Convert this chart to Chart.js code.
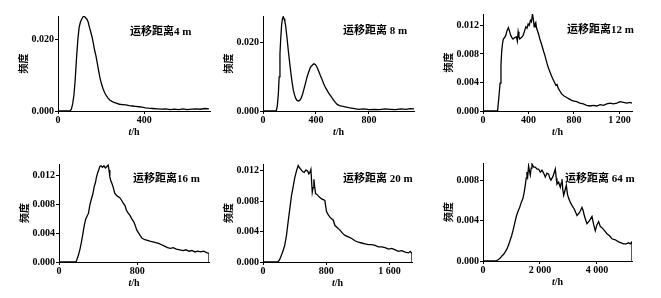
<!DOCTYPE html>
<html>
<head>
<meta charset="utf-8">
<script src="https://cdn.jsdelivr.net/npm/chart.js@4/dist/chart.umd.min.js"></script>
<style>
  html, body { margin: 0; padding: 0; background: #fff; }
  body { position: relative; width: 661px; height: 298px; overflow: hidden; }
  canvas { position: absolute; }
</style>
</head>
<body>
<script>
// 运移距离 4 m
const t4 = [0, 55, 62, 68, 74, 80, 86, 92, 98, 104, 110, 116, 122, 128, 134, 140, 146, 152, 158, 164, 170, 176, 182, 188, 194, 200, 208, 216, 224, 232, 240, 250, 260, 270, 285, 300, 315, 330, 345, 360, 375, 390, 405, 420, 440, 460, 480, 500, 520, 540, 560, 580, 600, 620, 640, 660, 680, 700];
const f4 = [0, 0, 0.0005, 0.002, 0.0045, 0.009, 0.015, 0.020, 0.0235, 0.025, 0.0258, 0.0265, 0.0266, 0.0262, 0.0258, 0.025, 0.0235, 0.0222, 0.0208, 0.019, 0.017, 0.0155, 0.0135, 0.0115, 0.0095, 0.008, 0.0064, 0.0052, 0.0043, 0.0036, 0.0031, 0.0027, 0.0024, 0.0022, 0.0019, 0.0018, 0.0017, 0.0015, 0.0014, 0.0013, 0.0012, 0.0011, 0.0009, 0.0008, 0.0007, 0.0006, 0.0005, 0.0006, 0.0004, 0.0005, 0.0004, 0.0006, 0.0004, 0.0005, 0.0006, 0.0005, 0.0007, 0.0006];

// 运移距离 8 m
const t8 = [0, 100, 108, 116, 122, 128, 135, 141, 147, 153, 159, 165, 171, 181, 191, 201, 211, 220, 229, 238, 247, 257, 267, 277, 287, 297, 307, 320, 332, 345, 358, 370, 383, 395, 408, 420, 433, 446, 458, 470, 483, 495, 508, 520, 533, 546, 558, 577, 596, 620, 646, 680, 722, 760, 800, 840, 880, 920, 960, 1000, 1040, 1080, 1110, 1140];
const f8 = [0, 0, 0.0015, 0.0051, 0.010, 0.0167, 0.022, 0.0254, 0.027, 0.0276, 0.027, 0.0262, 0.0249, 0.0215, 0.0177, 0.0143, 0.0109, 0.0083, 0.0061, 0.0047, 0.0037, 0.0031, 0.0029, 0.0031, 0.0037, 0.0047, 0.0061, 0.0080, 0.0099, 0.0114, 0.0128, 0.0133, 0.0138, 0.0136, 0.0128, 0.0117, 0.0104, 0.0092, 0.008, 0.007, 0.0061, 0.0053, 0.0046, 0.0039, 0.0032, 0.0025, 0.002, 0.0016, 0.0014, 0.0012, 0.001, 0.0008, 0.0005, 0.0006, 0.0004, 0.0005, 0.0004, 0.0006, 0.0005, 0.0004, 0.0006, 0.0005, 0.0007, 0.0006];

// 运移距离 12 m
const t12 = [0, 128, 140, 150, 158, 165, 172, 179, 190, 200, 210, 223, 233, 244, 254, 264, 279, 294, 302, 309, 316, 323, 338, 353, 365, 376, 387, 397, 407, 417, 426, 435, 443, 450, 457, 464, 470, 476, 488, 500, 512, 523, 534, 544, 554, 564, 576, 588, 600, 611, 626, 641, 651, 661, 676, 691, 713, 735, 757, 779, 801, 823, 852, 882, 911, 941, 970, 1000, 1030, 1059, 1088, 1117, 1146, 1176, 1205, 1235, 1264, 1294, 1310];
const f12 = [0, 0, 0.002, 0.0039, 0.0065, 0.0085, 0.0095, 0.0101, 0.0103, 0.0106, 0.0112, 0.0117, 0.0112, 0.0106, 0.0103, 0.0101, 0.0103, 0.0104, 0.0098, 0.0111, 0.0104, 0.0101, 0.0103, 0.0106, 0.0112, 0.0118, 0.0116, 0.0122, 0.0120, 0.0127, 0.0125, 0.0136, 0.0128, 0.0118, 0.0122, 0.0124, 0.0117, 0.0114, 0.0108, 0.0101, 0.0095, 0.0089, 0.0083, 0.0078, 0.0072, 0.0066, 0.006, 0.0055, 0.005, 0.0046, 0.0041, 0.0036, 0.0037, 0.0032, 0.0028, 0.0024, 0.0021, 0.0019, 0.0017, 0.0015, 0.0014, 0.0013, 0.0011, 0.001, 0.0008, 0.0007, 0.0008, 0.0007, 0.0009, 0.0008, 0.001, 0.0011, 0.001, 0.0011, 0.0013, 0.0012, 0.0011, 0.0012, 0.0011];

// 运移距离 16 m
const t16 = [0, 175, 185, 200, 215, 230, 245, 260, 274, 288, 302, 315, 330, 345, 360, 372, 383, 395, 406, 418, 430, 445, 460, 475, 490, 503, 512, 520, 530, 540, 555, 570, 588, 605, 620, 640, 657, 674, 690, 708, 726, 745, 765, 780, 794, 812, 830, 850, 879, 905, 930, 960, 990, 1020, 1050, 1080, 1110, 1140, 1170, 1200, 1235, 1270, 1300, 1330, 1360, 1390, 1420, 1450, 1480, 1510, 1535, 1535];
const f16 = [0, 0, 0.0004, 0.001, 0.0018, 0.0028, 0.004, 0.0052, 0.006, 0.0064, 0.0068, 0.0079, 0.0087, 0.0094, 0.0105, 0.011, 0.0118, 0.0124, 0.0128, 0.0133, 0.0134, 0.0132, 0.0134, 0.0131, 0.0133, 0.0135, 0.0128, 0.0119, 0.0113, 0.011, 0.0104, 0.0096, 0.0093, 0.0091, 0.0090, 0.0086, 0.0082, 0.0079, 0.0072, 0.0068, 0.0065, 0.006, 0.0056, 0.0051, 0.0045, 0.0041, 0.0037, 0.0033, 0.0031, 0.003, 0.0029, 0.0028, 0.0027, 0.0026, 0.0024, 0.0022, 0.002, 0.0019, 0.002, 0.0018, 0.0017, 0.0016, 0.0017, 0.0015, 0.0016, 0.0014, 0.0015, 0.0014, 0.0015, 0.0013, 0.0012, 0];

// 运移距离 20 m
const t20 = [0, 188, 210, 233, 255, 275, 297, 318, 339, 360, 381, 402, 424, 445, 462, 479, 500, 521, 542, 563, 580, 593, 606, 616, 623, 633, 644, 655, 665, 682, 699, 720, 741, 762, 783, 795, 805, 826, 847, 868, 889, 910, 942, 974, 1005, 1037, 1080, 1122, 1164, 1206, 1248, 1291, 1333, 1376, 1418, 1460, 1503, 1545, 1588, 1630, 1672, 1714, 1757, 1799, 1840, 1862, 1885, 1885];
const f20 = [0, 0, 0.0003, 0.0009, 0.0015, 0.0022, 0.0035, 0.0053, 0.007, 0.0087, 0.0099, 0.0111, 0.012, 0.0127, 0.0124, 0.0122, 0.0119, 0.0118, 0.0121, 0.012, 0.0116, 0.0118, 0.0122, 0.0104, 0.0092, 0.0098, 0.0109, 0.0098, 0.009, 0.0089, 0.0087, 0.0085, 0.0083, 0.0082, 0.0081, 0.0072, 0.0066, 0.0062, 0.0059, 0.0057, 0.0055, 0.0048, 0.0045, 0.0042, 0.0038, 0.0035, 0.0033, 0.0031, 0.0028, 0.0026, 0.0025, 0.0024, 0.0023, 0.0023, 0.0022, 0.002, 0.002, 0.0019, 0.0017, 0.0018, 0.0016, 0.0014, 0.0015, 0.0013, 0.0012, 0.0014, 0.0011, 0];

// 运移距离 64 m
const t64 = [0, 430, 520, 607, 665, 724, 782, 841, 900, 958, 1005, 1052, 1110, 1168, 1226, 1285, 1344, 1403, 1445, 1485, 1515, 1543, 1570, 1600, 1630, 1660, 1690, 1719, 1780, 1836, 1895, 1953, 2010, 2070, 2128, 2187, 2245, 2304, 2345, 2386, 2460, 2538, 2570, 2597, 2655, 2714, 2745, 2772, 2800, 2831, 2880, 2925, 2965, 3007, 3065, 3123, 3210, 3299, 3390, 3474, 3515, 3556, 3600, 3649, 3737, 3825, 3885, 3942, 4000, 4059, 4118, 4176, 4265, 4351, 4440, 4526, 4643, 4760, 4850, 4936, 5025, 5111, 5170, 5230, 5230];
const f64 = [0, 0, 0.0001, 0.0003, 0.0005, 0.00066, 0.0009, 0.0012, 0.0016, 0.0021, 0.0025, 0.003, 0.0037, 0.0044, 0.0049, 0.0053, 0.0058, 0.0062, 0.0068, 0.0075, 0.0082, 0.0088, 0.0084, 0.0094, 0.0089, 0.0085, 0.0092, 0.0096, 0.0093, 0.0093, 0.0091, 0.0091, 0.0088, 0.009, 0.0087, 0.0083, 0.0087, 0.0086, 0.0082, 0.008, 0.0084, 0.0091, 0.0082, 0.0076, 0.0078, 0.0073, 0.0077, 0.0081, 0.0071, 0.0065, 0.007, 0.0075, 0.0066, 0.0062, 0.0058, 0.0055, 0.0051, 0.0045, 0.0048, 0.0053, 0.005, 0.0045, 0.0041, 0.0037, 0.004, 0.0044, 0.0036, 0.003, 0.0036, 0.0039, 0.0034, 0.0033, 0.003, 0.0027, 0.0025, 0.0022, 0.0021, 0.0019, 0.0018, 0.0017, 0.0017, 0.0018, 0.0017, 0.0019, 0];

// tick values per panel
const xTicks4 = [0, 400],  yTicks4 = [0, 0.02];
const xTicks8 = [0, 400, 800], yTicks8 = [0, 0.02];
const xTicks12 = [0, 400, 800, 1200], yTicks12 = [0, 0.004, 0.008, 0.012];
const xTicks16 = [0, 800], yTicks16 = [0, 0.004, 0.008, 0.012];
const xTicks20 = [0, 800, 1600], yTicks20 = [0, 0.004, 0.008, 0.012];
const xTicks64 = [0, 2000, 4000], yTicks64 = [0, 0.004, 0.008];

const labels = ['运移距离4 m', '运移距离 8 m', '运移距离12 m', '运移距离16 m', '运移距离 20 m', '运移距离 64 m'];

// layout: chart area box [left, top, right, bottom] in page pixels
const Y_W = 45, X_H = 28, PAD_T = 6, PAD_R = 8;
const panels = [
  { box: [58, 15, 210, 111],  t: t4,  f: f4,  xt: xTicks4,  yt: yTicks4,  xMax: 705,  yMax: 0.0267, dx: 72, dy: 16 },
  { box: [263, 15, 414, 111], t: t8,  f: f8,  xt: xTicks8,  yt: yTicks8,  xMax: 1140, yMax: 0.0278, dx: 80, dy: 15 },
  { box: [483, 13, 632, 111], t: t12, f: f12, xt: xTicks12, yt: yTicks12, xMax: 1310, yMax: 0.0136, dx: 84, dy: 16 },
  { box: [59, 163, 209, 262], t: t16, f: f16, xt: xTicks16, yt: yTicks16, xMax: 1535, yMax: 0.01365, dx: 74, dy: 15 },
  { box: [263, 163, 412, 262], t: t20, f: f20, xt: xTicks20, yt: yTicks20, xMax: 1885, yMax: 0.0129, dx: 80, dy: 15 },
  { box: [483, 162, 632, 261], t: t64, f: f64, xt: xTicks64, yt: yTicks64, xMax: 5230, yMax: 0.0097, dx: 82, dy: 16 }
];

Chart.defaults.font.family = "'Liberation Serif', 'Noto Sans CJK SC', serif";
Chart.defaults.font.size = 10;
Chart.defaults.font.weight = 'bold';
Chart.defaults.color = '#000';

function fmtX(v) {
  return String(v).replace(/\B(?=(\d{3})+(?!\d))/g, ' ');
}

// panel caption and the t/h axis title (t in italics)
const panelText = {
  id: 'panelText',
  afterDraw(chart, args, opts) {
    const { ctx, chartArea: a } = chart;
    ctx.save();
    ctx.fillStyle = '#000';
    ctx.textBaseline = 'middle';
    ctx.textAlign = 'left';
    ctx.font = "bold 11px 'Liberation Serif', 'Noto Sans CJK SC'";
    ctx.fillText(opts.label, a.left + opts.dx, a.top + opts.dy);

    ctx.font = "italic bold 10px 'Liberation Serif'";
    const w1 = ctx.measureText('t').width;
    ctx.font = "bold 10px 'Liberation Serif'";
    const w2 = ctx.measureText('/h').width;
    const x0 = (a.left + a.right) / 2 - (w1 + w2) / 2;
    const y0 = a.bottom + 21;
    ctx.font = "italic bold 10px 'Liberation Serif'";
    ctx.fillText('t', x0, y0);
    ctx.font = "bold 10px 'Liberation Serif'";
    ctx.fillText('/h', x0 + w1, y0);
    ctx.restore();
  }
};

panels.forEach((p, i) => {
  const [L, T, R, B] = p.box;
  const cv = document.createElement('canvas');
  cv.width = (R - L) + Y_W + PAD_R;
  cv.height = (B - T) + PAD_T + X_H;
  cv.style.left = (L - Y_W) + 'px';
  cv.style.top = (T - PAD_T) + 'px';
  document.body.appendChild(cv);

  new Chart(cv, {
    type: 'line',
    data: {
      datasets: [{
        data: p.t.map((t, k) => ({ x: t, y: p.f[k] })),
        borderColor: '#000',
        borderWidth: 1.3,
        pointRadius: 0,
        tension: 0,
        fill: false
      }]
    },
    options: {
      responsive: false,
      animation: false,
      events: [],
      layout: { padding: { top: PAD_T, right: PAD_R, left: 0, bottom: 0 } },
      plugins: {
        legend: { display: false },
        tooltip: { enabled: false },
        panelText: { label: labels[i], dx: p.dx, dy: p.dy }
      },
      scales: {
        x: {
          type: 'linear',
          min: 0,
          max: p.xMax,
          grid: { display: true, drawOnChartArea: false, drawTicks: true, tickLength: 3, color: '#000' },
          border: { display: true, color: '#000', width: 1 },
          ticks: { padding: 0, maxRotation: 0, callback: v => fmtX(v) },
          afterBuildTicks: s => { s.ticks = p.xt.map(v => ({ value: v })); },
          afterFit: s => { s.height = X_H; }
        },
        y: {
          min: 0,
          max: p.yMax,
          grid: { display: true, drawOnChartArea: false, drawTicks: true, tickLength: 3, color: '#000' },
          border: { display: true, color: '#000', width: 1 },
          ticks: { padding: 1, callback: v => v.toFixed(3) },
          afterBuildTicks: s => { s.ticks = p.yt.map(v => ({ value: v })); },
          afterFit: s => { s.width = Y_W; },
          title: {
            display: true,
            text: '频度',
            font: { family: "'Noto Sans CJK SC'", size: 10, weight: 'bold' },
            padding: { top: 4, bottom: 0 }
          }
        }
      }
    },
    plugins: [panelText]
  });
});
</script>
</body>
</html>
